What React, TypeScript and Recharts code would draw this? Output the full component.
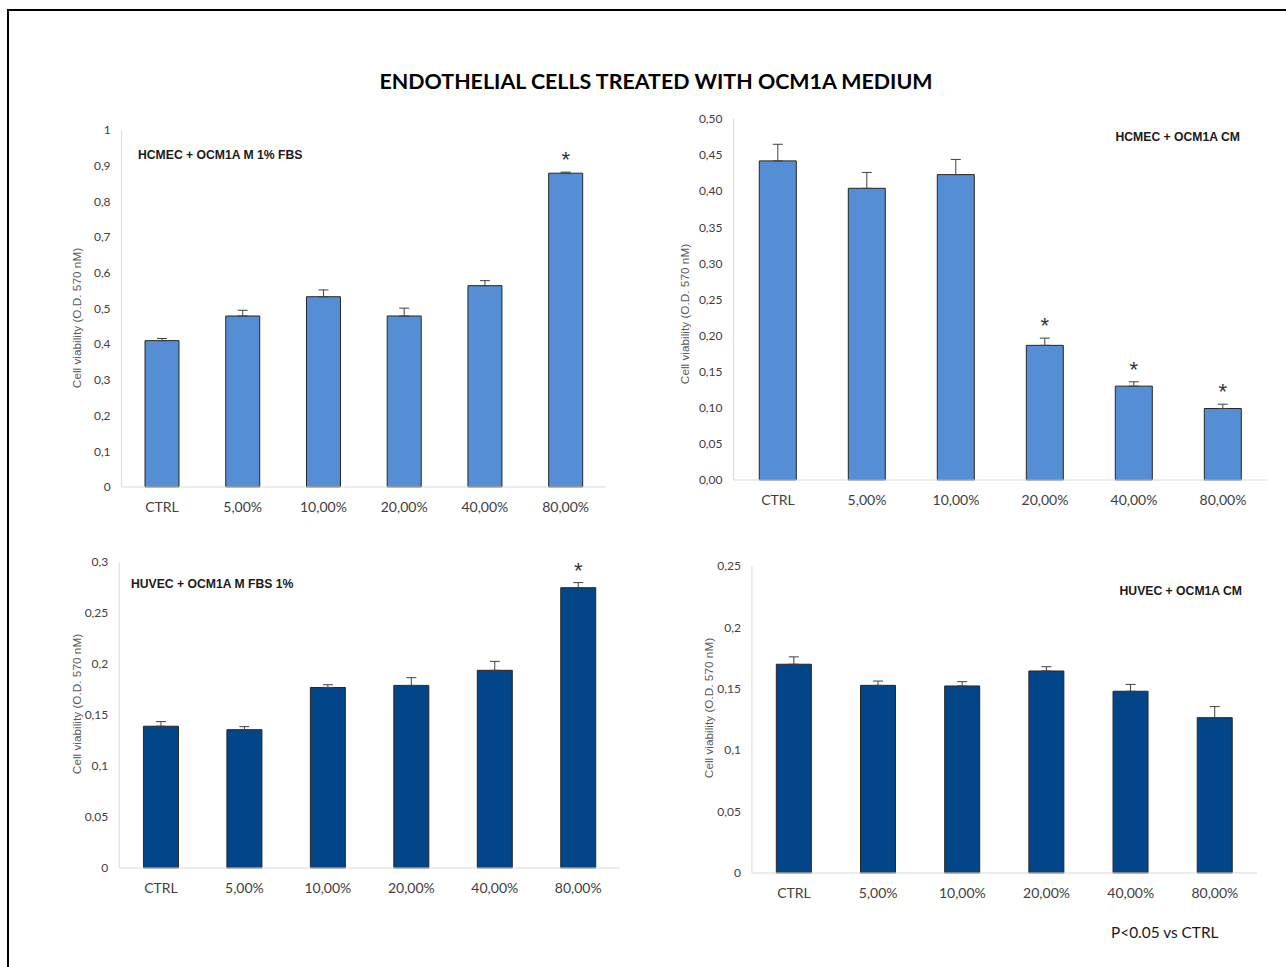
import { Bar, BarChart, ErrorBar, LabelList, Label, XAxis, YAxis } from "recharts";

const categories = ["CTRL", "5,00%", "10,00%", "20,00%", "40,00%", "80,00%"];

// HCMEC + OCM1A M 1% FBS
const hcmecFbsMean = [0.41, 0.479, 0.533, 0.479, 0.564, 0.879];
const hcmecFbsErr = [0.006, 0.016, 0.019, 0.022, 0.014, 0.003];
const hcmecFbsStar = [false, false, false, false, false, true];
const hcmecFbsTicks = [0, 0.1, 0.2, 0.3, 0.4, 0.5, 0.6, 0.7, 0.8, 0.9, 1];

// HCMEC + OCM1A CM
const hcmecCmMean = [0.442, 0.404, 0.423, 0.1865, 0.13, 0.099];
const hcmecCmErr = [0.023, 0.022, 0.021, 0.01, 0.006, 0.006];
const hcmecCmStar = [false, false, false, true, true, true];
const hcmecCmTicks = [0, 0.05, 0.1, 0.15, 0.2, 0.25, 0.3, 0.35, 0.4, 0.45, 0.5];

// HUVEC + OCM1A M FBS 1%
const huvecFbsMean = [0.139, 0.1356, 0.177, 0.179, 0.1938, 0.2748];
const huvecFbsErr = [0.0045, 0.003, 0.0027, 0.0076, 0.0088, 0.005];
const huvecFbsStar = [false, false, false, false, false, true];
const huvecFbsTicks = [0, 0.05, 0.1, 0.15, 0.2, 0.25, 0.3];

// HUVEC + OCM1A CM
const huvecCmMean = [0.17, 0.1528, 0.1523, 0.1645, 0.148, 0.1265];
const huvecCmErr = [0.006, 0.0035, 0.0035, 0.0035, 0.0056, 0.009];
const huvecCmStar = [false, false, false, false, false, false];
const huvecCmTicks = [0, 0.05, 0.1, 0.15, 0.2, 0.25];

const LIGHT_BLUE = "#558ed5";
const NAVY = "#024589";
const tickFont = "Lato, 'Open Sans', sans-serif";

type PanelProps = {
  left: number;
  top: number;
  width: number;
  height: number;
  plotLeft: number;
  plotRight: number;
  plotTop: number;
  plotBottom: number;
  mean: number[];
  err: number[];
  star: boolean[];
  ticks: number[];
  decimals: number;
  color: string;
  labelX: number;
  labelY: number;
};

function fmt(v: number, decimals: number) {
  if (decimals === 0) {
    // excel-style general number with comma
    return String(v).replace(".", ",");
  }
  return v.toFixed(decimals).replace(".", ",");
}

function Panel(p: PanelProps) {
  const data = categories.map((c, i) => ({
    name: c,
    value: p.mean[i],
    err: [0, p.err[i]],
    star: p.star[i],
  }));
  const yAxisWidth = 60;
  const axisX = p.plotLeft - yAxisWidth;
  const xAxisHeight = 30;
  const margin = {
    top: p.plotTop - p.top,
    left: axisX - p.left,
    right: p.left + p.width - p.plotRight,
    bottom: p.top + p.height - p.plotBottom - xAxisHeight,
  };
  const labelDx = p.labelX - (axisX + yAxisWidth / 2);
  const labelDy = p.labelY - (p.plotTop + p.plotBottom) / 2;
  const renderStar = (props: any) => {
    const { x, y, width, height, index } = props;
    const row = data[index];
    if (!row || !row.star) return null;
    const pxPerUnit = Number(height) / row.value;
    const errTop = Number(y) - p.err[index] * pxPerUnit;
    return (
      <text
        x={Number(x) + Number(width) / 2}
        y={errTop - 5}
        textAnchor="middle"
        fontSize={22}
        fontFamily="'Liberation Sans', Arial, sans-serif"
        fill="#333"
      >
        *
      </text>
    );
  };
  return (
    <div style={{ position: "absolute", left: p.left, top: p.top }}>
      <BarChart width={p.width} height={p.height} data={data} margin={margin} barCategoryGap="29%">
        <XAxis
          dataKey="name"
          height={xAxisHeight}
          stroke="#d9d9d9"
          tickLine={false}
          tickMargin={9}
          tick={{ fontSize: 14, fill: "#404040", fontFamily: tickFont }}
        />
        <YAxis
          width={yAxisWidth}
          domain={[p.ticks[0], p.ticks[p.ticks.length - 1]]}
          ticks={p.ticks}
          interval={0}
          stroke="#d9d9d9"
          tickLine={false}
          tickMargin={5}
          tickFormatter={(v: number) => fmt(v, p.decimals)}
          tick={{ fontSize: 12, fill: "#404040", fontFamily: tickFont }}
        >
          <Label
            value="Cell viability (O.D. 570 nM)"
            angle={-90}
            position="center"
            dx={labelDx}
            dy={labelDy}
            style={{ fontSize: 11.8, fill: "#595959", fontFamily: "'Liberation Sans', Arial, sans-serif" }}
          />
        </YAxis>
        <Bar dataKey="value" fill={p.color} stroke="#262626" strokeWidth={1} isAnimationActive={false}>
          <ErrorBar dataKey="err" width={5} stroke="#404040" strokeWidth={1} direction="y" />
          <LabelList dataKey="value" content={renderStar} />
        </Bar>
      </BarChart>
    </div>
  );
}

const panelTitle: React.CSSProperties = {
  position: "absolute",
  fontFamily: "'Liberation Sans', Arial, sans-serif",
  fontWeight: "bold",
  fontSize: 12.2,
  color: "#1a1a1a",
  whiteSpace: "nowrap",
  lineHeight: "14px",
};

export default function App() {
  return (
    <div
      style={{
        position: "absolute",
        left: 0,
        top: 0,
        width: 1286,
        height: 967,
        background: "#fff",
        overflow: "hidden",
      }}
    >
      <div
        style={{
          position: "absolute",
          left: 7,
          top: 9,
          width: 1300,
          height: 1000,
          borderLeft: "2px solid #000",
          borderTop: "2px solid #000",
        }}
      />
      <div
        style={{
          position: "absolute",
          left: 0,
          width: 1312,
          top: 67,
          textAlign: "center",
          fontFamily: "Lato, 'Open Sans', sans-serif",
          fontWeight: "bold",
          fontSize: 21.4,
          lineHeight: "28px",
          color: "#000",
        }}
      >
        ENDOTHELIAL CELLS TREATED WITH OCM1A MEDIUM
      </div>

      <Panel
        left={60}
        top={110}
        width={560}
        height={430}
        plotLeft={121.6}
        plotRight={606}
        plotTop={130}
        plotBottom={487}
        mean={hcmecFbsMean}
        err={hcmecFbsErr}
        star={hcmecFbsStar}
        ticks={hcmecFbsTicks}
        decimals={0}
        color={LIGHT_BLUE}
        labelX={77}
        labelY={318}
      />
      <Panel
        left={660}
        top={105}
        width={620}
        height={430}
        plotLeft={733.5}
        plotRight={1267.5}
        plotTop={119}
        plotBottom={480}
        mean={hcmecCmMean}
        err={hcmecCmErr}
        star={hcmecCmStar}
        ticks={hcmecCmTicks}
        decimals={2}
        color={LIGHT_BLUE}
        labelX={685}
        labelY={314}
      />
      <Panel
        left={60}
        top={545}
        width={575}
        height={365}
        plotLeft={119.25}
        plotRight={620}
        plotTop={562}
        plotBottom={868}
        mean={huvecFbsMean}
        err={huvecFbsErr}
        star={huvecFbsStar}
        ticks={huvecFbsTicks}
        decimals={0}
        color={NAVY}
        labelX={77}
        labelY={704}
      />
      <Panel
        left={690}
        top={550}
        width={580}
        height={365}
        plotLeft={751.9}
        plotRight={1257}
        plotTop={566}
        plotBottom={873}
        mean={huvecCmMean}
        err={huvecCmErr}
        star={huvecCmStar}
        ticks={huvecCmTicks}
        decimals={0}
        color={NAVY}
        labelX={709}
        labelY={708}
      />

      <div style={{ ...panelTitle, left: 138, top: 148 }}>HCMEC + OCM1A M 1% FBS</div>
      <div style={{ ...panelTitle, right: 1286 - 1240, top: 130 }}>HCMEC + OCM1A CM</div>
      <div style={{ ...panelTitle, left: 131, top: 577 }}>HUVEC + OCM1A M FBS 1%</div>
      <div style={{ ...panelTitle, right: 1286 - 1242, top: 584 }}>HUVEC + OCM1A CM</div>
      <div
        style={{
          position: "absolute",
          left: 1111,
          top: 922,
          fontFamily: "Lato, 'Open Sans', sans-serif",
          fontSize: 15.4,
          color: "#1a1a1a",
          whiteSpace: "nowrap",
          lineHeight: "20px",
        }}
      >
        P&lt;0.05 vs CTRL
      </div>
    </div>
  );
}
